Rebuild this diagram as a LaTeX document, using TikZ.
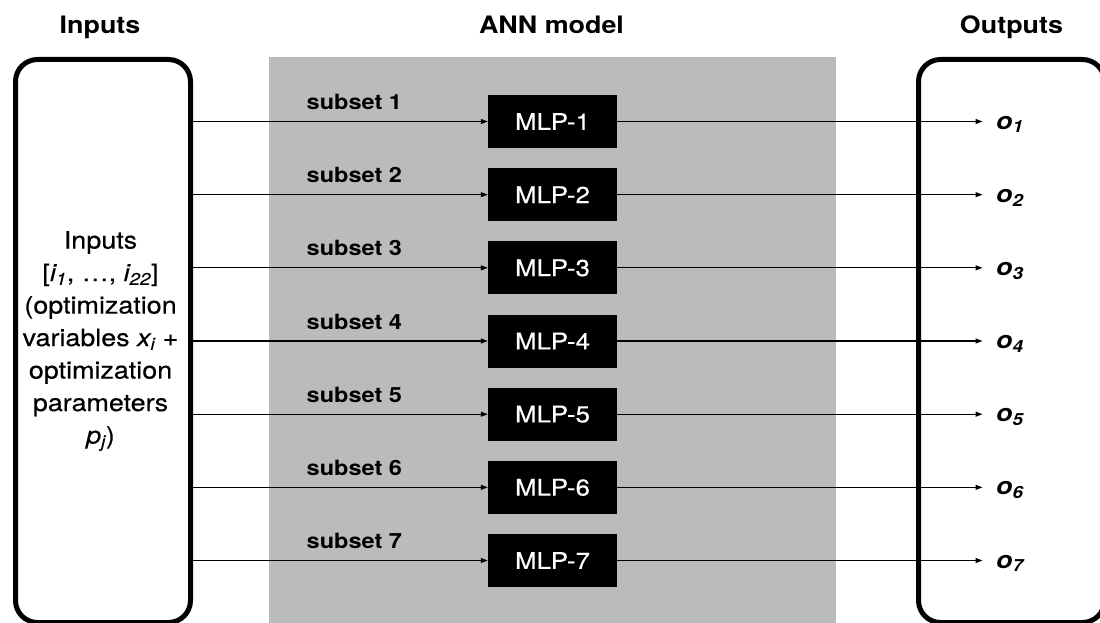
\documentclass[tikz,border=0pt]{standalone}
\usepackage{fontspec}
\setmainfont[FakeStretch=1.12]{TeX Gyre Heros}
\newfontfamily\medfont[FakeStretch=1.12,FakeBold=0.4]{TeX Gyre Heros}
\usetikzlibrary{arrows.meta}
\definecolor{anngray}{HTML}{BBBBBB}
\tikzset{
  iobox/.style={draw=black, line width=5pt, rounded corners=22pt, fill=white, anchor=north west, inner sep=0pt},
  annbox/.style={fill=anngray, draw=none, anchor=north west, inner sep=0pt},
  mlpbox/.style={fill=black, text=white, minimum width=129pt, minimum height=53pt, inner sep=0pt, font=\fontsize{23}{27}\medfont},
  hdr/.style={font=\fontsize{24}{28}\selectfont\bfseries, anchor=base, inner sep=0pt},
  sublbl/.style={font=\fontsize{21}{25}\selectfont\bfseries, anchor=base west, inner sep=0pt},
  olbl/.style={font=\fontsize{24}{28}\selectfont\bfseries\itshape, anchor=base west, inner sep=0pt},
  arr/.style={line width=1.1pt, -{Triangle[length=7pt,width=5pt]}}
}
\begin{document}
\begin{tikzpicture}[x=1pt,y=-1pt]
\useasboundingbox (0,0) rectangle (1100,623);
% ANN model background
\node[annbox, minimum width=567pt, minimum height=570pt] (ann) at (269,57) {};
% headers
\node[hdr] (hin) at (100,33.3) {Inputs};
\node[hdr] (hann) at (551.5,33.3) {ANN model};
\node[hdr] (hout) at (1011.5,33.3) {Outputs};
% input box
\node[iobox, minimum width=175pt, minimum height=563pt] (in) at (13,57) {};
\node[align=center, font=\fontsize{24}{32.5}\medfont, inner sep=0pt] (intext) at (100.5,341) {Inputs\\{[}\textit{i\textsubscript{1}}, …, \textit{i\textsubscript{22}}{]}\\(optimization\\variables \textit{x\textsubscript{i}} +\\optimization\\parameters\\\textit{p\textsubscript{j}})};
% output box
\node[iobox, minimum width=186pt, minimum height=563pt] (out) at (916,57) {};
% MLPs and connectors
\foreach \k in {1,...,7}{
  \pgfmathsetmacro\yy{121.5+(\k-1)*73.17}
  \node[mlpbox] (m\k) at (552.5,\yy) {MLP-\k};
  \node[sublbl] (s\k) at (306.5,\yy-12) {subset \k};
  \draw[arr] (in.east |- m\k.west) -- (m\k.west);
  \coordinate (e\k) at (982.5,\yy);
  \draw[arr] (m\k.east) -- (e\k);
  \node[olbl] (o\k) at (996,\yy+7.6) {o\textsubscript{\k}};
}
\end{tikzpicture}
\end{document}
